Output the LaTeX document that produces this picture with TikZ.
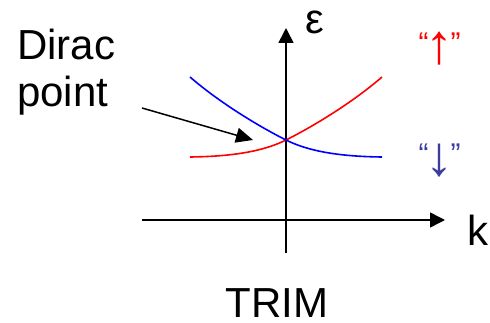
\documentclass[tikz,border=0pt]{standalone}
\usepackage{fontspec}
\setmainfont{Liberation Sans}
\usetikzlibrary{arrows.meta}
\definecolor{upred}{RGB}{255,0,0}
\definecolor{dnblue}{RGB}{0,0,255}
\definecolor{labblue}{RGB}{60,60,160}
\tikzset{
  big/.style={font=\fontsize{42}{42}\selectfont, inner sep=0pt},
  quote/.style={font=\fontsize{30}{30}\selectfont, inner sep=0pt, anchor=base},
  glyph/.style={font=\fontsize{56}{56}\selectfont, inner sep=0pt, anchor=center},
  axis/.style={line width=1.6pt, -{Triangle[length=15pt,width=15pt]}},
  band/.style={line width=1.6pt},
  pointer/.style={line width=1.5pt, -{Triangle[length=17pt,width=15pt]}}
}
\begin{document}
\begin{tikzpicture}[x=1pt,y=-1pt]
\useasboundingbox (0,0) rectangle (490,323);
% axes
\coordinate (ybot) at (286,253);
\coordinate (ytop) at (286,28);
\coordinate (xl) at (142,220);
\coordinate (xr) at (445,220);
\draw[axis] (ybot) -- (ytop);
\draw[axis] (xl) -- (xr);
% bands
\coordinate (dp) at (286,140);
\coordinate (rs) at (190,157);
\coordinate (re) at (382,77);
\coordinate (bs) at (190,77);
\coordinate (be) at (382,157);
\draw[band, upred] (rs) .. controls (230,156.5) and (262,152) .. (dp) .. controls (312,127) and (352,103) .. (re);
\draw[band, dnblue] (bs) .. controls (220,103) and (260,127) .. (dp) .. controls (310,152) and (342,156.5) .. (be);
% labels
\node[big, anchor=center] (eps) at (315,22.5) {ε};
\node[big, anchor=base west] (k) at (467,245) {k};
\node[big, anchor=base] (trim) at (277,317) {TRIM};
\node[big, anchor=base west] (dirac) at (17,60) {Dirac};
\node[big, anchor=base west] (point) at (17,107) {point};
\coordinate (pstart) at (142,108);
\draw[pointer] (pstart) -- (253,140);
% spin labels
\node[quote, upred] (uql) at (423.5,53.5) {“};
\node[glyph, upred] (ua) at (439,49) {↑};
\node[quote, upred] (uqr) at (455.5,53.5) {”};
\node[quote, labblue] (dql) at (423.5,164.5) {“};
\node[glyph, labblue] (da) at (439,161) {↓};
\node[quote, labblue] (dqr) at (455.5,164.5) {”};
\end{tikzpicture}
\end{document}
